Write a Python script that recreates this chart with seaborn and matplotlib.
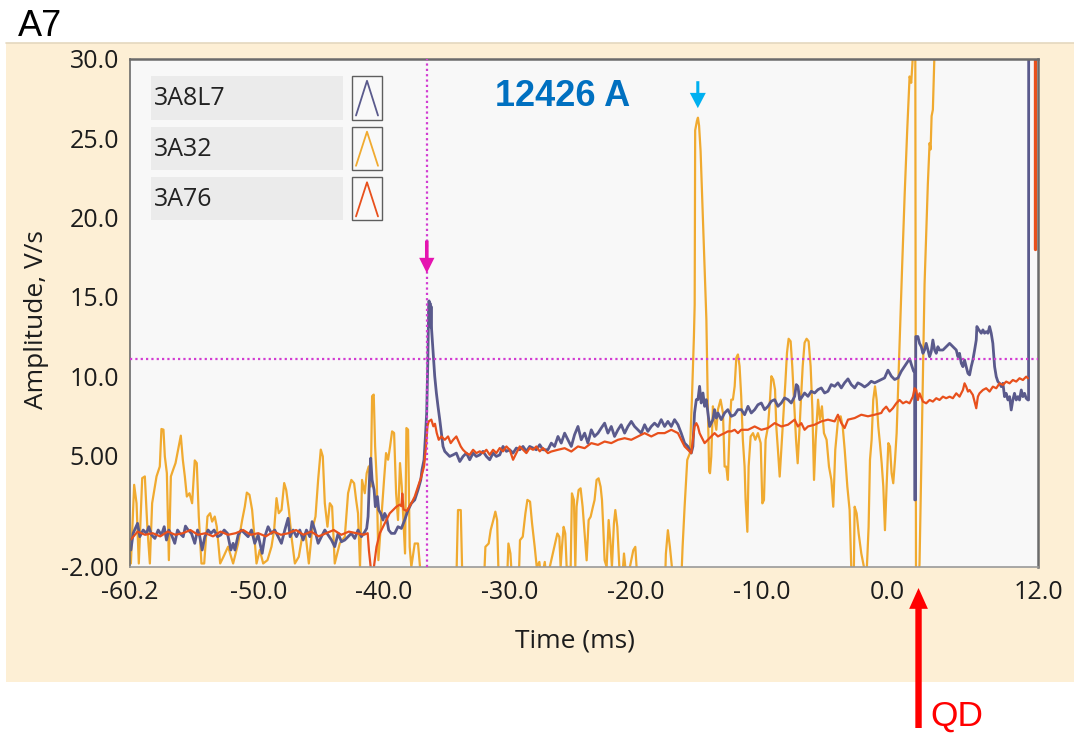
import matplotlib
matplotlib.use("Agg")
import matplotlib.pyplot as plt
from matplotlib.patches import Rectangle
from matplotlib.lines import Line2D
import pandas as pd
import seaborn as sns

# ---------------------------------------------------------------- data
# (time in ms, amplitude in V/s) for each voltage-tap channel
A8L7_TRACE = [
    (-60.13, -0.96), (-59.95, 0.09), (-59.60, 0.72), (-59.42, -0.12), (-59.15, 0.30), (-58.89, 0.09),
    (-58.70, 0.51), (-58.49, -0.01), (-58.22, -0.23), (-57.96, 0.30), (-57.70, -0.01), (-57.48, 0.51),
    (-57.30, -0.33), (-57.11, 0.30), (-56.90, -0.01), (-56.64, -0.54), (-56.42, 0.30), (-56.24, 0.09),
    (-55.97, -0.12), (-55.79, 0.55), (-55.58, 0.30), (-55.31, 0.09), (-55.05, -0.54), (-54.83, 0.30),
    (-54.65, -0.12), (-54.46, -0.96), (-54.25, -0.12), (-53.99, 0.30), (-53.77, 0.09), (-53.51, 0.30),
    (-53.24, -0.12), (-52.98, -0.01), (-52.71, 0.30), (-52.45, 0.09), (-52.18, -0.96), (-52.00, -0.54),
    (-51.86, -0.96), (-51.60, -0.01), (-51.34, 0.30), (-51.07, 0.09), (-50.81, -0.12), (-50.54, 0.30),
    (-50.28, -0.54), (-50.01, -0.01), (-49.69, -1.17), (-49.48, -0.12), (-49.22, 0.51), (-48.95, 0.09),
    (-48.69, 0.30), (-48.42, -0.12), (-48.16, -0.54), (-47.89, 0.30), (-47.63, 1.04), (-47.47, -0.12),
    (-47.23, 0.30), (-46.96, -0.12), (-46.70, 0.30), (-46.43, -0.33), (-46.17, 0.30), (-45.90, -0.12),
    (-45.72, 0.83), (-45.50, 0.30), (-45.24, -0.54), (-44.98, -0.12), (-44.71, 0.30), (-44.45, -0.01),
    (-44.18, -0.33), (-43.92, -0.75), (-43.65, 0.09), (-43.39, -0.44), (-43.12, -0.33),
    (-42.86, -0.12), (-42.60, 0.09), (-42.33, -0.23), (-42.07, 0.30), (-41.80, -0.12), (-41.53, 0.19),
    (-41.38, 0.40), (-41.27, 1.14), (-41.16, 3.46), (-41.06, 4.83), (-40.95, 3.46), (-40.79, 2.83),
    (-40.69, 1.77), (-40.53, 2.41), (-40.42, 1.56), (-40.26, 1.35), (-40.08, 0.93), (-39.95, 1.35),
    (-39.81, 1.14), (-39.63, 0.30), (-39.42, 0.09), (-39.15, 0.09), (-38.89, 0.51), (-38.62, 0.40),
    (-38.36, 0.93), (-38.09, 1.56), (-37.83, 1.98), (-37.56, 2.20), (-37.30, 2.83), (-37.08, 3.46),
    (-36.98, 4.10), (-36.82, 4.73), (-36.71, 6.20), (-36.61, 7.68), (-36.52, 10.85), (-36.46, 14.01),
    (-36.42, 14.75), (-36.38, 13.30), (-36.34, 14.60), (-36.30, 13.10), (-36.26, 14.40), (-36.22, 12.96),
    (-36.08, 11.27), (-35.97, 10.00), (-35.84, 8.95), (-35.71, 8.10), (-35.57, 7.26), (-35.44, 6.42),
    (-35.31, 5.57), (-35.17, 5.26), (-35.04, 5.15), (-34.78, 4.94), (-34.51, 5.04), (-34.25, 5.15),
    (-33.98, 4.62), (-33.72, 4.94), (-33.45, 5.15), (-33.19, 4.73), (-32.92, 5.15), (-32.66, 4.94),
    (-32.39, 5.04), (-32.13, 5.26), (-31.86, 4.94), (-31.60, 4.73), (-31.33, 5.15), (-31.07, 4.94),
    (-30.80, 5.04), (-30.54, 5.57), (-30.27, 5.26), (-30.01, 5.36), (-29.74, 5.15), (-29.48, 5.47),
    (-29.21, 5.36), (-28.95, 5.57), (-28.68, 5.26), (-28.42, 5.57), (-28.15, 5.47), (-27.89, 5.36),
    (-27.62, 5.68), (-27.36, 5.36),
    (-26.97, 5.36), (-26.70, 5.78), (-26.44, 5.57), (-26.17, 6.20), (-25.91, 5.78), (-25.64, 6.41),
    (-25.38, 5.99), (-25.11, 5.57), (-24.85, 6.31), (-24.58, 6.83), (-24.32, 5.99), (-24.05, 6.41),
    (-23.79, 5.78), (-23.52, 6.62), (-23.26, 6.20), (-22.99, 6.41), (-22.73, 6.73), (-22.46, 7.04),
    (-22.20, 6.41), (-21.93, 6.83), (-21.67, 6.20), (-21.40, 6.62), (-21.14, 6.94), (-20.87, 6.41),
    (-20.61, 6.83), (-20.34, 7.15), (-20.08, 6.83), (-19.81, 6.62), (-19.55, 6.41), (-19.28, 6.94),
    (-19.02, 6.52), (-18.75, 6.83), (-18.49, 7.04), (-18.22, 6.83), (-17.96, 7.26), (-17.69, 6.83),
    (-17.43, 7.15), (-17.16, 6.83), (-16.90, 7.26), (-16.63, 6.94), (-16.37, 6.41), (-16.10, 5.78),
    (-15.84, 5.57), (-15.57, 5.15), (-15.44, 5.57), (-15.31, 7.68), (-15.17, 8.52), (-15.04, 8.52),
    (-14.91, 9.36), (-14.78, 8.31), (-14.64, 8.94), (-14.51, 8.10), (-14.38, 8.52), (-14.25, 7.68),
    (-14.11, 6.83), (-13.98, 7.04), (-13.85, 7.26), (-13.72, 7.89), (-13.58, 7.36), (-13.45, 7.68),
    (-13.32, 7.47), (-13.19, 7.26), (-12.92, 7.68), (-12.66, 7.89), (-12.39, 7.47), (-12.12, 7.57),
    (-11.86, 7.89), (-11.59, 7.89), (-11.33, 7.57), (-11.06, 8.10), (-10.80, 7.68), (-10.53, 7.89),
    (-10.27, 8.20), (-10.00, 8.31), (-9.74, 7.89), (-9.47, 8.10), (-9.21, 8.42), (-8.94, 8.52),
    (-8.68, 8.10), (-8.41, 8.31), (-8.15, 8.63), (-7.88, 8.52), (-7.62, 8.31), (-7.35, 8.73),
    (-7.22, 9.47), (-7.09, 9.36), (-6.95, 8.52), (-6.82, 8.63), (-6.56, 8.94), (-6.29, 8.73),
    (-6.03, 9.05), (-5.76, 8.94), (-5.50, 9.15), (-5.23, 9.26), (-4.97, 8.94), (-4.70, 9.05),
    (-4.44, 9.47), (-4.17, 9.36), (-3.91, 9.58), (-3.64, 9.26), (-3.38, 9.58), (-3.11, 9.83),
    (-2.85, 9.47), (-2.58, 9.26), (-2.32, 9.58), (-2.05, 9.47), (-1.79, 9.32), (-1.52, 9.47),
    (-1.26, 9.68), (-0.99, 9.58), (-0.73, 9.68), (-0.46, 9.79), (-0.20, 9.89), (0.07, 10.38),
    (0.34, 10.00), (0.60, 9.79), (0.87, 9.89), (1.13, 10.31), (1.40, 10.63), (1.66, 10.95),
    (1.79, 11.10), (1.93, 10.74), (2.11, 10.31), (2.19, 10.30), (2.20, 2.20), (2.26, 2.20),
    (2.28, 12.50), (2.45, 12.50), (2.58, 12.07), (2.72, 11.86), (2.85, 11.44), (2.98, 11.65),
    (3.11, 12.07), (3.25, 11.65), (3.38, 11.23), (3.51, 11.55), (3.64, 12.28), (3.78, 11.65),
    (3.91, 11.44), (4.04, 11.86), (4.17, 11.65), (4.44, 11.65), (4.70, 11.86), (4.97, 12.07),
    (5.23, 11.86), (5.50, 11.65), (5.63, 11.23), (5.76, 11.44), (5.90, 10.81), (6.03, 10.60),
    (6.16, 11.02), (6.29, 10.60), (6.43, 10.18), (6.56, 10.08), (6.69, 10.60), (6.82, 11.02),
    (6.96, 11.65), (7.09, 12.28), (7.14, 13.13), (7.30, 12.92), (7.49, 12.71), (7.62, 12.92),
    (7.75, 12.71), (7.88, 12.81), (8.02, 12.71), (8.15, 13.13), (8.28, 12.71), (8.41, 12.07),
    (8.55, 10.60), (8.68, 9.97), (8.81, 9.66), (8.94, 9.55), (9.08, 9.34), (9.21, 9.55),
    (9.34, 8.71), (9.47, 8.92), (9.61, 8.50), (9.74, 8.71), (9.87, 7.87), (10.00, 8.50),
    (10.13, 8.92), (10.27, 8.50), (10.40, 8.71), (10.53, 8.50), (10.67, 9.13), (10.80, 8.71),
    (10.93, 8.92), (11.06, 8.61), (11.20, 8.50), (11.25, 8.50), (11.26, 36.00),
]

A32_TRACE = [
    (-60.13, -1.81), (-59.87, 3.15), (-59.68, 1.99), (-59.50, -1.81), (-59.23, 3.57), (-59.02, 3.68),
    (-58.81, 0.30), (-58.62, -1.81), (-58.44, 1.99), (-58.09, 3.68), (-57.83, 4.31), (-57.70, 6.67),
    (-57.54, 6.63), (-57.43, 4.94), (-57.27, 3.89), (-57.11, -1.60), (-56.95, 3.68), (-56.77, 4.10),
    (-56.58, 4.52), (-56.37, 5.37), (-56.16, 6.25), (-56.00, 4.73), (-55.84, 3.68), (-55.68, 2.41),
    (-55.47, 2.62), (-55.26, 1.99), (-55.05, 4.69), (-54.89, 4.52), (-54.73, 1.15), (-54.52, -1.81),
    (-54.30, -1.81), (-54.04, 1.15), (-53.83, 1.36), (-53.67, 0.83), (-53.46, 1.15), (-53.30, 0.51),
    (-53.03, -1.81), (-52.77, -1.39), (-52.40, -0.75), (-52.00, -1.81), (-51.60, -0.54), (-51.28, 0.93),
    (-51.07, 1.78), (-50.91, 2.66), (-50.70, 2.52), (-50.49, 1.57), (-50.33, 0.09), (-50.14, -1.81),
    (-49.88, -0.96), (-49.61, -1.81), (-49.27, -1.60), (-48.95, -0.75), (-48.74, 0.30), (-48.55, 2.31),
    (-48.37, 1.36), (-48.15, 1.57), (-47.94, 3.26), (-47.78, 2.83), (-47.57, 1.57), (-47.36, -0.12),
    (-47.09, -1.81), (-46.78, -1.39), (-46.51, -0.12), (-46.25, 0.09), (-45.98, -1.81), (-45.72, 0.30),
    (-45.45, 1.15), (-45.24, 3.47), (-45.03, 5.37), (-44.87, 4.94), (-44.71, 1.99), (-44.50, 0.51),
    (-44.31, 1.99), (-44.13, 1.78), (-43.92, -1.81), (-43.52, -0.54), (-43.12, -0.12),
    (-42.86, 2.62), (-42.60, 3.46), (-42.38, 3.25), (-42.22, 2.20), (-42.07, 1.35), (-41.91, -2.02),
    (-41.75, 3.46), (-41.53, 2.62), (-41.38, 3.88), (-41.22, 4.31), (-41.06, 3.04), (-40.95, 8.74),
    (-40.82, 8.84), (-40.71, 5.57), (-40.58, 3.46), (-40.45, -1.60), (-40.32, -0.12), (-40.16, 1.77),
    (-40.00, 3.46), (-39.84, 5.15), (-39.68, 4.73), (-39.52, 5.57), (-39.36, 6.52), (-39.20, 6.42),
    (-39.04, 2.62), (-38.89, 0.93), (-38.73, 4.52), (-38.59, 3.04), (-38.46, 0.93), (-38.33, -1.18),
    (-38.22, 6.73), (-38.09, 6.63), (-37.96, -0.76), (-37.83, -2.02), (-37.56, -0.55), (-37.30, -0.55),
    (-37.14, -2.02), (-36.90, -2.90), (-34.25, -2.90), (-34.12, 1.56), (-33.90, 1.56), (-33.77, -2.90),
    (-32.05, -2.90), (-31.94, -0.76), (-31.68, -0.55), (-31.52, 0.30), (-31.31, 0.93), (-31.15, 1.46),
    (-31.01, 0.93), (-30.91, -2.02), (-30.67, -2.90), (-30.22, -2.90), (-30.11, -0.55), (-29.95, -1.18),
    (-29.82, -2.90), (-29.29, -2.90), (-29.19, -0.34), (-28.97, -0.12), (-28.76, 1.35), (-28.60, 2.20),
    (-28.39, 2.09), (-28.23, 0.72), (-28.02, -0.76), (-27.86, -2.02), (-27.65, -1.71), (-27.49, -2.90),
    (-27.22, -1.71), (-27.07, -2.90),
    (-26.22, 0.08), (-26.06, -0.13), (-25.96, -2.03), (-25.85, -0.76), (-25.72, 0.50), (-25.59, 0.08),
    (-25.48, -2.03), (-25.16, -2.03), (-25.06, 2.61), (-24.90, 2.19), (-24.79, -2.03), (-24.69, 1.77),
    (-24.53, 2.82), (-24.37, 2.93), (-24.21, 1.77), (-24.05, 0.08), (-23.89, -1.61), (-23.73, 0.93),
    (-23.57, 1.14), (-23.39, 1.77), (-23.26, 2.19), (-23.10, 3.46), (-22.94, 3.56), (-22.78, 3.03),
    (-22.67, 2.19), (-22.57, 0.50), (-22.46, -1.61), (-22.30, -2.03), (-22.14, 0.93), (-22.01, -0.34),
    (-21.88, -2.03), (-21.72, 0.72), (-21.61, 1.56), (-21.45, 0.50), (-21.29, -2.03), (-21.08, -3.00),
    (-20.92, -1.18), (-20.76, -2.50), (-20.45, -2.03), (-20.18, -0.97), (-20.02, -0.76), (-19.92, -2.03),
    (-19.81, -4.00), (-17.69, -4.00), (-17.59, -1.20), (-17.43, 0.29), (-17.27, -0.76), (-17.11, -2.03),
    (-17.00, -4.00), (-16.42, -4.00), (-16.26, -0.76), (-16.10, 1.77), (-15.89, 4.72), (-15.68, 5.15),
    (-15.52, 8.52), (-15.36, 12.50), (-15.30, 14.50), (-15.26, 25.50), (-15.12, 26.10), (-15.04, 26.30),
    (-14.95, 25.80), (-14.83, 24.20), (-14.51, 16.90), (-14.37, 13.60), (-14.25, 8.00), (-14.15, 4.00),
    (-14.08, 3.88), (-13.98, 4.93), (-13.85, 8.10), (-13.72, 7.26), (-13.58, 6.62), (-13.45, 7.89),
    (-13.24, 8.52), (-13.05, 7.68), (-12.92, 4.30), (-12.79, 4.30), (-12.66, 3.46), (-12.52, 6.83),
    (-12.39, 8.52), (-12.26, 8.52), (-12.12, 9.36), (-11.99, 11.16), (-11.86, 11.37), (-11.73, 10.63),
    (-11.60, 8.73), (-11.47, 5.99), (-11.33, 4.30), (-11.25, 2.19), (-11.11, 0.19), (-11.01, 4.30),
    (-10.85, 6.20), (-10.66, 6.41), (-10.48, 5.99), (-10.27, 6.41), (-10.05, 5.78), (-9.92, 1.98),
    (-9.79, 2.19), (-9.66, 5.99), (-9.47, 6.83), (-9.31, 8.52), (-9.20, 10.00), (-9.05, 9.79),
    (-8.91, 9.15), (-8.81, 6.83), (-8.68, 5.36), (-8.54, 3.67), (-8.41, 5.36), (-8.25, 7.47),
    (-8.09, 9.58), (-7.96, 11.47), (-7.83, 12.36), (-7.67, 12.20), (-7.54, 10.63), (-7.40, 8.52),
    (-7.24, 5.99), (-7.11, 4.51), (-6.98, 6.41), (-6.85, 8.52), (-6.71, 10.63), (-6.56, 12.11),
    (-6.40, 12.36), (-6.24, 12.20), (-6.08, 10.63), (-5.94, 7.89), (-5.81, 3.46), (-5.68, 5.99),
    (-5.49, 8.52), (-5.34, 7.26), (-5.18, 8.10), (-5.02, 6.41), (-4.81, 5.99), (-4.62, 4.30),
    (-4.43, 3.46), (-4.28, 1.77), (-4.12, 5.36), (-3.90, 7.26), (-3.69, 7.47), (-3.53, 6.83),
    (-3.37, 5.36), (-3.16, 3.04), (-2.98, 1.56), (-2.85, -2.03), (-2.72, -3.00), (-2.64, -2.03),
    (-2.58, 1.77), (-2.42, 1.35), (-2.26, 0.08), (-2.05, -1.18), (-1.84, -2.03), (-1.68, -3.30),
    (-1.57, -1.39), (-1.47, 0.50), (-1.36, 4.72), (-1.23, 5.99), (-1.10, 8.52), (-0.96, 9.36),
    (-0.83, 8.52), (-0.70, 6.83), (-0.57, 5.78), (-0.43, 4.51), (-0.30, 3.04), (-0.17, 0.29),
    (-0.04, 3.04), (0.10, 5.78), (0.23, 5.57), (0.36, 3.88), (0.49, 3.25), (0.63, 4.72),
    (0.76, 6.41), (0.89, 9.58), (1.02, 12.74), (1.20, 17.00), (1.40, 21.50), (1.60, 25.50),
    (1.79, 28.90), (1.92, 28.50), (2.02, 29.80), (2.12, 31.50), (2.18, 33.00), (2.24, 33.00),
    (2.30, -4.00), (2.46, -4.00), (2.58, -1.80), (2.79, 7.50), (2.98, 15.80), (3.24, 22.10),
    (3.38, 24.70), (3.46, 24.30), (3.54, 26.40), (3.64, 26.80), (3.78, 30.60), (3.90, 34.00),
    (11.90, 34.00),
]

A76_TRACE = [
    (-60.13, -0.30), (-59.60, 0.20), (-59.00, 0.00), (-58.40, 0.10), (-57.80, -0.10), (-57.20, 0.20),
    (-56.60, 0.00), (-56.00, 0.10), (-55.40, 0.30), (-54.80, 0.00), (-54.20, 0.10), (-53.60, -0.10),
    (-53.00, 0.20), (-52.40, 0.00), (-51.80, 0.10), (-51.20, 0.30), (-50.60, 0.00), (-50.00, 0.10),
    (-49.40, -0.10), (-48.80, 0.20), (-48.20, 0.00), (-47.60, 0.10), (-47.00, 0.30), (-46.40, 0.00),
    (-45.80, 0.20), (-45.20, -0.10), (-44.60, 0.10), (-44.00, 0.30), (-43.40, 0.00), (-42.80, 0.20),
    (-42.20, 0.10), (-41.60, 0.00), (-41.30, 0.10), (-41.20, -1.00), (-41.00, -2.50), (-40.87, -3.00),
    (-40.80, -2.00), (-40.60, -0.76), (-40.34, 0.09), (-40.08, 0.50), (-39.81, 0.93), (-39.55, 1.35),
    (-39.28, 1.56), (-39.02, 1.77), (-38.75, 1.90), (-38.62, 1.80), (-38.55, 2.60), (-38.45, 1.60),
    (-38.20, 1.50), (-37.83, 1.98), (-37.56, 2.41), (-37.30, 3.04), (-37.03, 3.67), (-36.82, 4.31),
    (-36.66, 5.57), (-36.55, 6.84), (-36.45, 7.15), (-36.24, 7.26), (-36.08, 6.84), (-35.95, 7.00),
    (-35.81, 6.42), (-35.65, 5.99), (-35.44, 6.20), (-35.17, 5.99), (-34.91, 6.20), (-34.70, 5.78),
    (-34.50, 5.99), (-34.25, 6.20), (-34.07, 5.88), (-33.90, 5.57), (-33.72, 5.36), (-33.45, 5.15),
    (-33.19, 5.04), (-32.92, 5.36), (-32.66, 5.15), (-32.39, 5.26), (-32.13, 5.15), (-31.86, 5.36),
    (-31.60, 5.04), (-31.33, 5.36), (-31.07, 5.15), (-30.80, 5.47), (-30.54, 5.26), (-30.27, 5.57),
    (-30.01, 5.36), (-29.74, 4.73), (-29.48, 5.15), (-29.21, 5.57), (-28.95, 5.36), (-28.68, 5.15),
    (-28.42, 5.47), (-28.15, 5.36), (-27.89, 5.57), (-27.62, 5.26), (-27.36, 5.47), (-26.97, 5.15),
    (-26.70, 5.25), (-26.17, 5.36), (-25.64, 5.46), (-25.11, 5.25), (-24.58, 5.57), (-24.05, 5.46),
    (-23.52, 5.78), (-22.99, 5.67), (-22.46, 5.88), (-21.93, 5.78), (-21.40, 5.99), (-20.87, 6.09),
    (-20.34, 5.99), (-19.81, 6.20), (-19.28, 6.41), (-18.75, 6.20), (-18.22, 6.41), (-17.69, 6.41),
    (-17.16, 6.62), (-16.63, 6.41), (-16.37, 5.99), (-16.10, 5.57), (-15.84, 5.36), (-15.57, 5.15),
    (-15.44, 5.99), (-15.31, 6.83), (-15.17, 7.04), (-15.04, 6.83), (-14.91, 6.41), (-14.78, 6.20),
    (-14.51, 5.78), (-14.25, 5.99), (-13.98, 6.20), (-13.72, 6.41), (-13.45, 6.20), (-13.19, 6.31),
    (-12.92, 6.41), (-12.66, 6.52), (-12.39, 6.52), (-12.12, 6.62), (-11.86, 6.41), (-11.60, 6.62),
    (-11.06, 6.62), (-10.53, 6.83), (-10.00, 6.62), (-9.47, 6.73), (-8.94, 7.04), (-8.41, 6.83),
    (-7.88, 6.94), (-7.35, 7.26), (-7.09, 6.83), (-6.82, 7.04), (-6.56, 6.62), (-6.29, 6.83),
    (-5.76, 6.94), (-5.23, 7.15), (-4.70, 7.26), (-4.17, 7.15), (-3.91, 7.57), (-3.64, 7.04),
    (-3.38, 6.73), (-3.11, 7.26), (-2.58, 7.36), (-2.05, 7.57), (-1.52, 7.47), (-0.99, 7.57),
    (-0.46, 7.68), (-0.33, 7.87), (-0.07, 8.08), (0.20, 7.77), (0.46, 7.98), (0.73, 8.29),
    (0.99, 8.50), (1.26, 8.29), (1.52, 8.40), (1.79, 8.29), (2.05, 8.71), (2.19, 9.24),
    (2.32, 9.13), (2.45, 8.50), (2.58, 8.92), (2.85, 8.40), (3.11, 8.29), (3.38, 8.50),
    (3.64, 8.40), (3.91, 8.61), (4.17, 8.50), (4.44, 8.71), (4.70, 8.61), (4.97, 8.71),
    (5.23, 8.61), (5.50, 8.92), (5.76, 8.71), (6.03, 9.13), (6.16, 9.55), (6.29, 9.34),
    (6.43, 9.03), (6.56, 9.13), (6.82, 8.82), (7.09, 7.98), (7.22, 8.71), (7.35, 8.92),
    (7.62, 9.13), (7.88, 9.24), (8.15, 9.03), (8.41, 9.34), (8.68, 9.24), (8.94, 9.55),
    (9.21, 9.45), (9.47, 9.66), (9.74, 9.55), (10.00, 9.76), (10.27, 9.66), (10.53, 9.87),
    (10.80, 9.76), (11.06, 9.97), (11.20, 9.87),
]
A76_TAIL = [(11.80, 18.0), (11.80, 36.0)]

CHANNELS = ["3A8L7", "3A32", "3A76"]
CHANNEL_COLORS = ["#5A5A8C", "#F0AA30", "#E8501C"]

X_TICKS = [-60.2, -50.0, -40.0, -30.0, -20.0, -10.0, 0.0, 10.0, 12.0]
X_TICK_LABELS = ["-60.2", "-50.0", "-40.0", "-30.0", "-20.0", "-10.0", "0.0", "", "12.0"]
Y_TICKS = [-2.0, 0.0, 5.0, 10.0, 15.0, 20.0, 25.0, 30.0]
Y_TICK_LABELS = ["-2.00", "", "5.00", "10.0", "15.0", "20.0", "25.0", "30.0"]

CURSOR_TIME = -36.6      # vertical cursor (3A8L7 peak)
CURSOR_LEVEL = 11.1      # horizontal threshold cursor
SPIKE_TIME = -15.05      # 3A32 spike marker
QD_TIME = 2.5            # quench detection
CURRENT_LABEL = "12426 A"
PANEL_LABEL = "A7"

# ---------------------------------------------------------------- style
sns.set_theme(style="white")
plt.rcParams["font.family"] = ["Open Sans", "DejaVu Sans"]
plt.rcParams["text.color"] = "#1c1c1c"

W, H = 1074, 735
fig = plt.figure(figsize=(W / 100, H / 100), dpi=100)
fig.patch.set_facecolor("white")


def fx(px):
    return px / W


def fy(py):
    return 1 - py / H


def fig_rect(x0, y0, x1, y1, **kw):
    fig.add_artist(Rectangle((fx(x0), fy(y1)), fx(x1) - fx(x0), fy(y0) - fy(y1),
                             transform=fig.transFigure, **kw))


# beige instrument panel behind the graph
fig_rect(6, 43, W + 2, 682, facecolor="#FDEFD5", edgecolor="none", zorder=-2)
fig.add_artist(Line2D([fx(6), 1], [fy(43), fy(43)], transform=fig.transFigure,
                      color="#E4D8BF", lw=1.2, zorder=-1))

ax = fig.add_axes([fx(130), fy(566.5), fx(1038) - fx(130), fy(59) - fy(566.5)])
ax.set_facecolor("#F8F8F8")


def trace_frame(points, channel):
    return pd.DataFrame({"time": [p[0] for p in points],
                         "amplitude": [p[1] for p in points],
                         "channel": channel})


draw_order = [
    (A32_TRACE, "3A32", 1.6),
    (A8L7_TRACE, "3A8L7", 2.0),
    (A76_TRACE, "3A76", 1.6),
    (A76_TAIL, "3A76", 2.4),
]
for pts, ch, lw in draw_order:
    sns.lineplot(data=trace_frame(pts, ch), x="time", y="amplitude",
                 color=CHANNEL_COLORS[CHANNELS.index(ch)], linewidth=lw,
                 estimator=None, sort=False, legend=False, ax=ax)

# cursors
cursor_color = "#D23CD2"
ax.axvline(CURSOR_TIME, color=cursor_color, lw=1.6, ls=(0, (1, 1.4)), zorder=4)
ax.axhline(CURSOR_LEVEL, color=cursor_color, lw=1.6, ls=(0, (1, 1.4)), zorder=4)

ax.set_xlim(-60.2, 12.0)
ax.set_ylim(-2.0, 30.0)
ax.set_xticks(X_TICKS)
ax.set_xticklabels(X_TICK_LABELS)
ax.set_yticks(Y_TICKS)
ax.set_yticklabels(Y_TICK_LABELS)
ax.tick_params(axis="both", direction="out", length=5, width=1.1, color="#555555",
               labelsize=18, labelcolor="#1c1c1c")
ax.tick_params(axis="x", pad=5)
ax.tick_params(axis="y", pad=3)
ax.grid(False)

for side, col, lw in [("top", "#6B6B6B", 1.8), ("left", "#6B6B6B", 1.2),
                      ("bottom", "#9A9A9A", 1.2), ("right", "#6B6B6B", 1.8)]:
    ax.spines[side].set_visible(True)
    ax.spines[side].set_color(col)
    ax.spines[side].set_linewidth(lw)

ax.set_xlabel("Time (ms)", fontsize=19, color="#1c1c1c")
ax.set_ylabel("Amplitude, V/s", fontsize=19, color="#1c1c1c")
ax.xaxis.set_label_coords((575 - 130) / 908, (566.5 - 641) / 507.5)
ax.xaxis.label.set_va("center")
ax.yaxis.set_label_coords((37 - 130) / 908, (566.5 - 320) / 507.5)
ax.yaxis.label.set_va("center")

# markers
ax.annotate("", xy=(CURSOR_TIME, 16.5), xytext=(CURSOR_TIME, 18.55),
            arrowprops=dict(facecolor="#E514B0", edgecolor="none", width=2.6,
                            headwidth=11, headlength=11, shrink=0), zorder=6)
ax.annotate("", xy=(SPIKE_TIME, 26.9), xytext=(SPIKE_TIME, 28.6),
            arrowprops=dict(facecolor="#00B0F0", edgecolor="none", width=2.2,
                            headwidth=11.5, headlength=11, shrink=0), zorder=6)
ax.annotate("", xy=(QD_TIME, fy(588)), xycoords=("data", "figure fraction"),
            xytext=(QD_TIME, fy(728)), textcoords=("data", "figure fraction"),
            arrowprops=dict(facecolor="#FF0000", edgecolor="none", width=4.6,
                            headwidth=13.5, headlength=15, shrink=0),
            annotation_clip=False)
fig.text(fx(930), fy(716), "QD", color="#FF0000", fontsize=25.5, ha="left", va="center",
         family=["Liberation Sans", "DejaVu Sans"])

fig.text(fx(563), fy(97), CURRENT_LABEL, color="#0070C0", fontsize=26, fontweight="bold",
         ha="center", va="center", family=["Liberation Sans", "DejaVu Sans"])
fig.text(fx(18), fy(36), PANEL_LABEL, color="black", fontsize=26, ha="left", va="baseline",
         family=["Liberation Sans", "DejaVu Sans"])

# plot legend (channel name boxes with line icons)
legend_rows = [(75.8, 119.5), (126.7, 169.8), (177.3, 220.4)]
for (y0, y1), name, col in zip(legend_rows, CHANNELS, CHANNEL_COLORS):
    fig_rect(151, y0, 343, y1, facecolor="#EBEBEB", edgecolor="none", zorder=5)
    fig_rect(352, y0, 382, y1, facecolor="#F9F9F9", edgecolor="#5E5E5E", lw=1.0, zorder=5)
    fig.add_artist(Line2D([fx(356), fx(367), fx(378)], [fy(y1 - 4), fy(y0 + 5), fy(y1 - 4)],
                          transform=fig.transFigure, color=col, lw=1.3, zorder=6))
    fig.text(fx(154), fy((y0 + y1) / 2 + 1), name, fontsize=18, ha="left", va="center",
             color="#222222", zorder=6)

fig.savefig("out.png", dpi=100)
